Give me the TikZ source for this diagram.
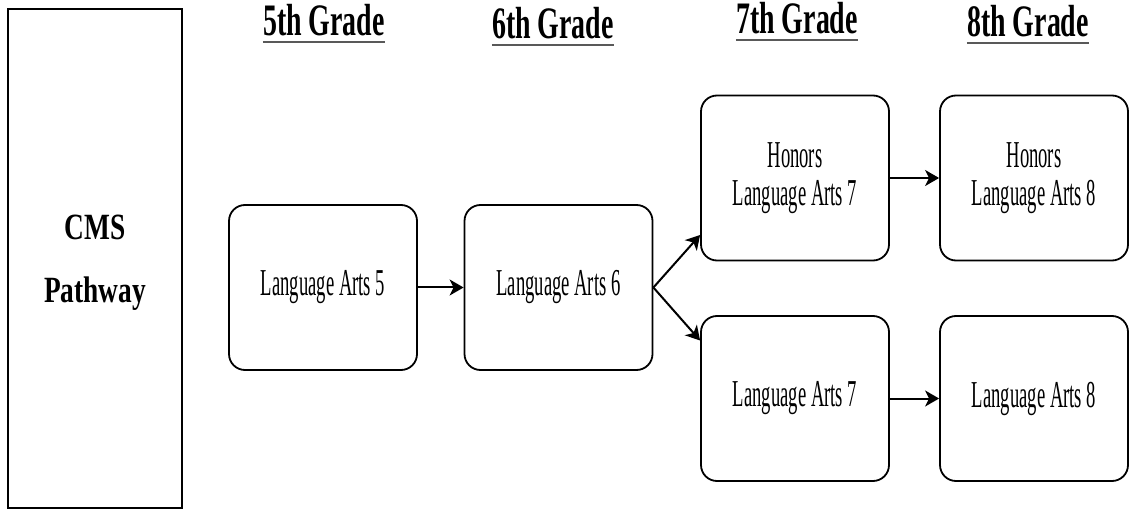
\documentclass[tikz,border=0pt]{standalone}
\usepackage{fontspec}
\usetikzlibrary{arrows.meta}
\newfontfamily\bodyf[FakeStretch=0.49]{Liberation Serif}
\newfontfamily\headf[FakeStretch=0.62]{Liberation Serif}
\newfontfamily\cmsf[FakeStretch=0.74]{Liberation Serif}
\tikzset{
  course/.style={draw, line width=1.8pt, rounded corners=16pt, minimum width=188pt, minimum height=165pt, align=center, inner sep=0pt, font=\bodyf\fontsize{38}{38}\selectfont},
  heading/.style={inner sep=0pt, font=\headf\bfseries\fontsize{45}{50}\selectfont},
  uline/.style={line width=2.8pt, black!65},
  arr/.style={line width=2pt, -{Stealth[length=14pt,width=16pt,inset=4pt]}},
}
\begin{document}
\begin{tikzpicture}[x=1pt,y=-1pt]
\useasboundingbox (0,0) rectangle (1131,510);
% side box
\node[draw, line width=2pt, minimum width=174pt, minimum height=499pt, inner sep=0pt] (cms) at (95,258.5) {};
\node[align=center, inner sep=0pt, font=\cmsf\bfseries\fontsize{37}{63}\selectfont] (cmst) at (95,263) {CMS\\Pathway};
% headings
\node[heading, anchor=base] (h5) at (324,36) {5th Grade};
\node[heading, anchor=base] (h6) at (553,39) {6th Grade};
\node[heading, anchor=base] (h7) at (797,34) {7th Grade};
\node[heading, anchor=base] (h8) at (1028,37) {8th Grade};
\foreach \h in {h5,h6,h7,h8}
  \draw[uline] ([yshift=-6pt]\h.base west) -- ([yshift=-6pt]\h.base east);
% courses
\node[course] (la5) at (323,287.5) {Language Arts 5};
\node[course] (la6) at (558.5,287.5) {Language Arts 6};
\node[course] (h7c) at (795,178) {Honors\\Language Arts 7};
\node[course] (h8c) at (1034,178) {Honors\\Language Arts 8};
\node[course] (la7) at (795,398.5) {Language Arts 7};
\node[course] (la8) at (1034,398.5) {Language Arts 8};
% arrows
\draw[arr] (la5.east) -- (la6.west);
\draw[arr] (la6.east) -- ([yshift=-57pt]h7c.west);
\draw[arr] (la6.east) -- ([yshift=58pt]la7.west);
\draw[arr] (h7c.east) -- (h8c.west);
\draw[arr] (la7.east) -- (la8.west);
\end{tikzpicture}
\end{document}
